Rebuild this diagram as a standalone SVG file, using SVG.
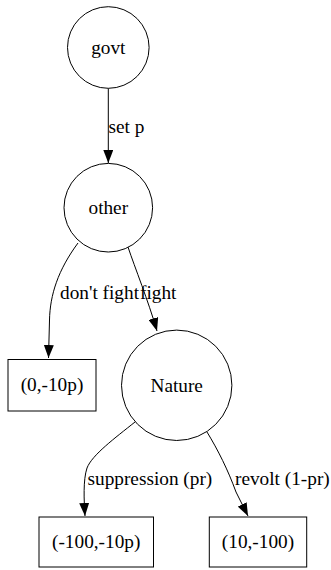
<svg xmlns="http://www.w3.org/2000/svg" width="331" height="570" viewBox="0 0 331 570">
<style>
.n{fill:#fff;stroke:#000;stroke-width:1}
.t{font-family:"Liberation Serif","Times New Roman",serif;font-size:19.3px;fill:#000}
.c{text-anchor:middle}
.e{fill:none;stroke:#000;stroke-width:1}
</style>
<defs>
<marker id="ah" viewBox="0 0 13 10" refX="13" refY="5" markerWidth="13" markerHeight="10" markerUnits="userSpaceOnUse" orient="auto">
<path d="M0,0 L13,5 L0,10 z" fill="#000"/>
</marker>
</defs>
<rect width="331" height="570" fill="#fff"/>
<g id="edges">
<path class="e" d="M108.3,88.3 L108.3,163" marker-end="url(#ah)"/>
<path class="e" d="M78,243 C58,270 50,295 49.5,320 L48.5,358" marker-end="url(#ah)"/>
<path class="e" d="M128,247 C135,268 148,300 157,331" marker-end="url(#ah)"/>
<path class="e" d="M135,422 C115,438 92,455 87,468 C83,480 84,500 85,516" marker-end="url(#ah)"/>
<path class="e" d="M207,432 C218,450 228,470 236,492 L248,516" marker-end="url(#ah)"/>
<text class="t" x="108.5" y="132.5">set p</text>
<text class="t" x="60" y="298.5">don't fight</text>
<text class="t" x="140" y="298.5">fight</text>
<text class="t" x="87.5" y="485">suppression (pr)</text>
<text class="t" x="235" y="485">revolt (1-pr)</text>
</g>
<g id="govt">
<circle class="n" cx="108.3" cy="47.5" r="40.8"/>
<text class="t c" x="108.3" y="53.5">govt</text>
</g>
<g id="other">
<circle class="n" cx="108.3" cy="207.7" r="44.3"/>
<text class="t c" x="108.3" y="214">other</text>
</g>
<g id="payoff1">
<rect class="n" x="8" y="359.5" width="88" height="51.5"/>
<text class="t c" x="52" y="391">(0,-10p)</text>
</g>
<g id="Nature">
<circle class="n" cx="176.7" cy="385.3" r="55.2"/>
<text class="t c" x="176.7" y="391.5">Nature</text>
</g>
<g id="payoff2">
<rect class="n" x="39" y="517" width="114.5" height="50"/>
<text class="t c" x="96.2" y="548">(-100,-10p)</text>
</g>
<g id="payoff3">
<rect class="n" x="209.3" y="517" width="97.4" height="50"/>
<text class="t c" x="258" y="548">(10,-100)</text>
</g>
</svg>
